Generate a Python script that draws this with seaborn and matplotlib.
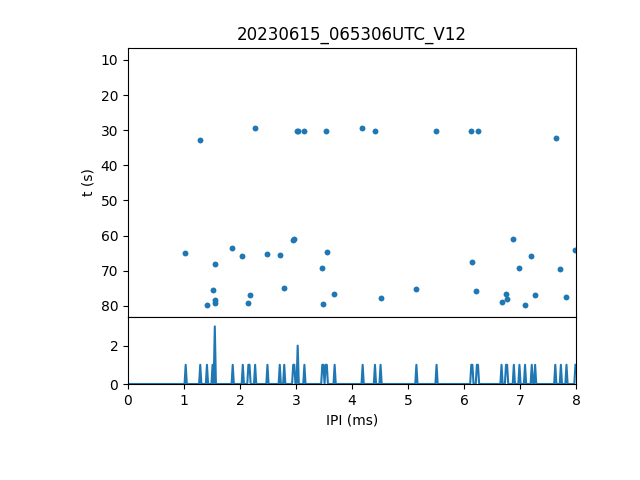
import numpy as np
import pandas as pd
import matplotlib
matplotlib.use('Agg')
import matplotlib.pyplot as plt
import seaborn as sns

title = '20230615_065306UTC_V12'

# inter-pulse intervals (ms) and the time (s) they were seen
ipi_ms = [1.29, 2.27, 3.025, 3.035, 3.14, 3.535, 4.18, 4.41, 5.50, 6.12, 6.25, 7.64,
          1.02, 1.55, 1.86, 2.04, 2.49, 2.71, 2.95, 2.97, 3.545, 3.46, 3.68, 3.48,
          1.51, 1.55, 1.55, 1.41, 2.17, 2.15, 2.79,
          4.51, 5.15, 6.15, 6.22, 6.88, 7.20, 6.99, 7.72, 7.98, 6.755, 6.775,
          6.67, 7.09, 7.27, 7.83]
t_s = [32.8, 29.4, 30.2, 30.2, 30.2, 30.2, 29.4, 30.2, 30.2, 30.2, 30.2, 32.3,
       65.0, 68.1, 63.6, 65.9, 65.3, 65.6, 61.2, 61.0, 64.7, 69.3, 76.7, 79.5,
       75.5, 78.4, 79.1, 79.8, 77.0, 79.2, 75.0,
       77.8, 75.3, 67.6, 75.8, 61.0, 65.9, 69.3, 69.6, 64.2, 76.7, 78.1,
       79.0, 79.8, 77.0, 77.5]

df = pd.DataFrame({'ipi': ipi_ms, 't': t_s})

# histogram of the IPIs with fine bins
edges = np.arange(0, 8.02, 0.02)
counts, _ = np.histogram(df['ipi'], bins=edges)
hist = pd.DataFrame({'ipi': edges[:-1] + 0.01, 'n': counts})

fig, (ax1, ax2) = plt.subplots(2, 1, sharex=True, figsize=(6.4, 4.8),
                               gridspec_kw={'height_ratios': [4, 1], 'hspace': 0})
fig.subplots_adjust(left=0.2, right=0.9, top=0.9, bottom=0.2)

sns.scatterplot(data=df, x='ipi', y='t', ax=ax1, s=18, color='C0', linewidth=0)
ax1.set_ylim(83.1, 6.6)
ax1.set_yticks([10, 20, 30, 40, 50, 60, 70, 80])
ax1.set_ylabel('t (s)')
ax1.set_xlabel('')
ax1.set_title(title)
ax1.tick_params(axis='x', bottom=False, labelbottom=False)

sns.lineplot(data=hist, x='ipi', y='n', ax=ax2, color='C0')
ax2.set_xlim(0, 8)
ax2.set_ylim(0, 3.5)
ax2.set_yticks([0, 2])
ax2.set_ylabel('')
ax2.set_xlabel('IPI (ms)')

plt.savefig('out.png', dpi=100)
